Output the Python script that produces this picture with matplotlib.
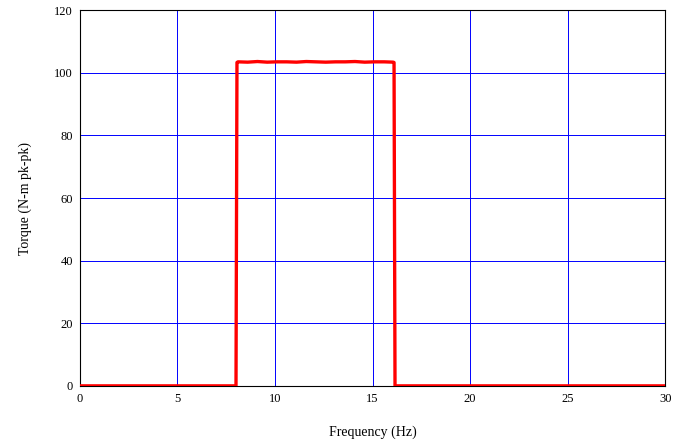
import matplotlib
matplotlib.use("Agg")
import matplotlib.pyplot as plt

# frequency (Hz) and torque (N-m pk-pk)
freq = [0, 8.0, 8.05, 8.1, 8.6, 9.1, 9.6, 10.1, 10.6, 11.1, 11.6, 12.1, 12.6,
        13.1, 13.6, 14.1, 14.6, 15.1, 15.6, 16.05, 16.1, 16.15, 30]
torque = [0, 0, 103.3, 103.5, 103.4, 103.6, 103.4, 103.5, 103.5, 103.4, 103.6,
          103.5, 103.4, 103.5, 103.5, 103.6, 103.4, 103.5, 103.5, 103.4, 103.3, 0, 0]

x_ticks = [0, 5, 10, 15, 20, 25, 30]
y_ticks = [0, 20, 40, 60, 80, 100, 120]

plt.rcParams['font.family'] = ['Liberation Serif', 'DejaVu Serif']

fig = plt.figure(figsize=(6.83, 4.43), dpi=100)
ax = fig.add_axes([0.117, 0.129, 0.857, 0.848])

ax.plot(freq, torque, color='#ff0000', linewidth=2.4, zorder=3)

ax.set_xlim(0, 30)
ax.set_ylim(0, 120)
ax.set_xticks(x_ticks)
ax.set_yticks(y_ticks)
ax.tick_params(length=0, labelsize=9, pad=5)
ax.grid(True, color='#0000ff', linewidth=0.7)
for s in ax.spines.values():
    s.set_color('black')
    s.set_linewidth(0.8)

ax.set_xlabel('Frequency (Hz)', fontsize=10, labelpad=15)
ax.set_ylabel('Torque (N-m pk-pk)', fontsize=10, labelpad=16)

fig.savefig('out.png', dpi=100)
